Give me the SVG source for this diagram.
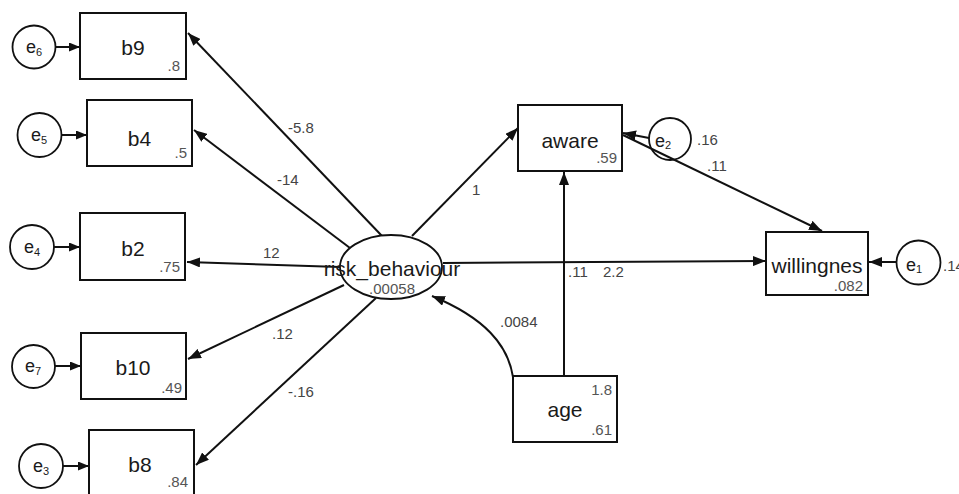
<svg xmlns="http://www.w3.org/2000/svg" width="959" height="494" viewBox="0 0 959 494">
<style>
.box{fill:#fff;stroke:#111;stroke-width:2}
.lat{fill:#fff;stroke:#111;stroke-width:1.8}
.lbl{font-family:"Liberation Sans",Arial,sans-serif;font-size:21px;fill:#1a1a1a;text-anchor:middle}
.val{font-family:"Liberation Sans",Arial,sans-serif;font-size:15px;fill:#555;text-anchor:end}
.pl{font-family:"Liberation Sans",Arial,sans-serif;font-size:15px;fill:#444}
.el{font-family:"Liberation Sans",Arial,sans-serif;font-size:18px;fill:#1a1a1a}
.sub{font-size:11px}
.con{fill:none;stroke:#111;stroke-width:2}
</style>
<defs>
<marker id="ah" markerUnits="userSpaceOnUse" markerWidth="13" markerHeight="10" refX="13" refY="5" orient="auto">
<path d="M0,0 L13,5 L0,10 z" fill="#111"/>
</marker>
<marker id="ahs" markerUnits="userSpaceOnUse" markerWidth="11" markerHeight="9" refX="11" refY="4.5" orient="auto">
<path d="M0,0 L11,4.5 L0,9 z" fill="#111"/>
</marker>
</defs>
<g id="connectors">
<path class="con" d="M382 236 L188 33" marker-end="url(#ah)"/>
<path class="con" d="M350 248 L194 130" marker-end="url(#ah)"/>
<path class="con" d="M340 267 L187 262" marker-end="url(#ah)"/>
<path class="con" d="M344 285 L188 359" marker-end="url(#ah)"/>
<path class="con" d="M376 298 L196 465" marker-end="url(#ah)"/>
<path class="con" d="M412 236 L518 128" marker-end="url(#ah)"/>
<path class="con" d="M443 263 L766 261" marker-end="url(#ah)"/>
<path class="con" d="M564 376 L564 172" marker-end="url(#ah)"/>
<path class="con" d="M623 135 L822 231" marker-end="url(#ah)"/>
<path class="con" d="M649 138 L623 133" marker-end="url(#ah)"/>
<path class="con" d="M897 262 L869 262" marker-end="url(#ah)"/>
<path class="con" d="M513 418 L513 377 C508 345 485 318 432 296" marker-end="url(#ah)"/>
<polygon points="513,395 522,402 513,408" fill="#111"/>
<path class="con" d="M55.5 47 L80 47" marker-end="url(#ahs)"/>
<path class="con" d="M61.5 135 L87 135" marker-end="url(#ahs)"/>
<path class="con" d="M54 247 L80 247" marker-end="url(#ahs)"/>
<path class="con" d="M55 366 L81 366" marker-end="url(#ahs)"/>
<path class="con" d="M63 466 L89 466" marker-end="url(#ahs)"/>
<text class="pl" x="288" y="133">-5.8</text>
<text class="pl" x="277" y="185">-14</text>
<text class="pl" x="263" y="258">12</text>
<text class="pl" x="272" y="339">.12</text>
<text class="pl" x="288" y="397">-.16</text>
<text class="pl" x="472" y="195">1</text>
<text class="pl" x="568" y="277">.11</text>
<text class="pl" x="603" y="277">2.2</text>
<text class="pl" x="707" y="171">.11</text>
<text class="pl" x="500" y="327">.0084</text>
</g>
<g id="b9"><rect class="box" x="80" y="13" width="106" height="66"/><text class="lbl" x="133" y="55">b9</text><text class="val" x="180" y="71">.8</text></g>
<g id="b4"><rect class="box" x="87" y="100" width="105" height="66"/><text class="lbl" x="139.5" y="146">b4</text><text class="val" x="187" y="158">.5</text></g>
<g id="b2"><rect class="box" x="80" y="213" width="105" height="67"/><text class="lbl" x="133" y="256">b2</text><text class="val" x="180" y="272">.75</text></g>
<g id="b10"><rect class="box" x="81" y="333" width="105" height="66"/><text class="lbl" x="133" y="375">b10</text><text class="val" x="182" y="393">.49</text></g>
<g id="b8"><rect class="box" x="89" y="430" width="105" height="66"/><text class="lbl" x="140" y="472">b8</text><text class="val" x="188" y="487">.84</text></g>
<g id="aware"><rect class="box" x="518" y="105" width="104" height="66"/><text class="lbl" x="570" y="148">aware</text><text class="val" x="617" y="163">.59</text></g>
<g id="willingnes"><rect class="box" x="766" y="232" width="102" height="63"/><text class="lbl" x="817" y="273">willingnes</text><text class="val" x="863" y="291">.082</text></g>
<g id="age"><rect class="box" x="513" y="376" width="104" height="66"/><text class="lbl" x="565" y="417">age</text><text class="val" x="612" y="395">1.8</text><text class="val" x="612" y="435">.61</text></g>
<g id="risk_behaviour"><ellipse class="lat" cx="391" cy="267" rx="51" ry="32"/><text class="lbl" x="392" y="276">risk_behaviour</text><text class="val" x="415" y="294">.00058</text></g>
<g id="e6"><circle class="lat" cx="34" cy="47" r="21.5"/><text class="el" x="26" y="53">e<tspan class="sub" dy="3">6</tspan></text></g>
<g id="e5"><circle class="lat" cx="39.5" cy="135" r="22"/><text class="el" x="31" y="141">e<tspan class="sub" dy="3">5</tspan></text></g>
<g id="e4"><circle class="lat" cx="32" cy="247" r="22"/><text class="el" x="24" y="253">e<tspan class="sub" dy="3">4</tspan></text></g>
<g id="e7"><circle class="lat" cx="33.5" cy="366.5" r="21.5"/><text class="el" x="25" y="372">e<tspan class="sub" dy="3">7</tspan></text></g>
<g id="e3"><circle class="lat" cx="41" cy="466" r="22"/><text class="el" x="33" y="472">e<tspan class="sub" dy="3">3</tspan></text></g>
<g id="e2"><circle class="lat" cx="670" cy="139" r="21" style="fill:none"/><text class="el" x="655" y="147">e<tspan class="sub" dy="2">2</tspan></text><text class="pl" x="697" y="145">.16</text></g>
<g id="e1"><circle class="lat" cx="918.5" cy="262.5" r="22"/><text class="el" x="906" y="271">e<tspan class="sub" dy="2">1</tspan></text><text class="pl" x="943" y="271">.14</text></g>
</svg>
